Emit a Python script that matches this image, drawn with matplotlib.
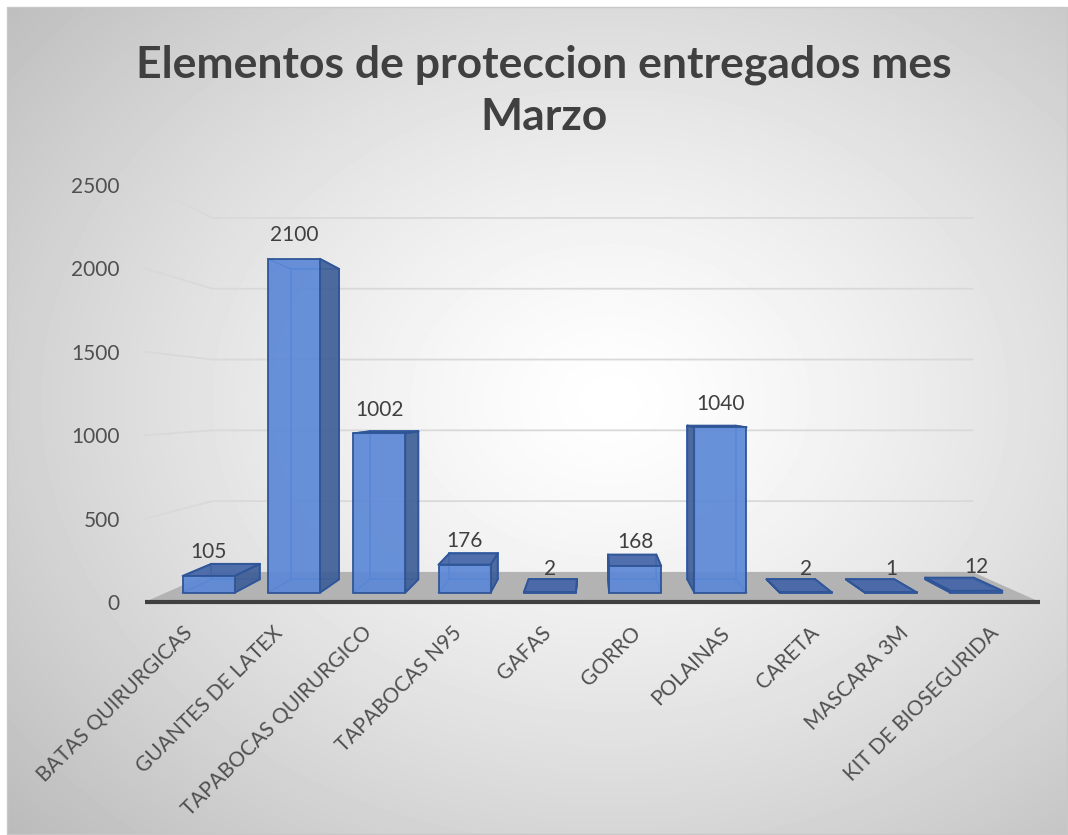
import numpy as np
import matplotlib.pyplot as plt
from matplotlib.patches import Polygon, Rectangle

plt.rcParams['font.family'] = ['Lato', 'DejaVu Sans']

titulo = 'Elementos de proteccion entregados mes\nMarzo'
categorias = ['BATAS QUIRURGICAS', 'GUANTES DE LATEX', 'TAPABOCAS QUIRURGICO',
              'TAPABOCAS N95', 'GAFAS', 'GORRO', 'POLAINAS', 'CARETA',
              'MASCARA 3M', 'KIT DE BIOSEGURIDA']
cantidades = [105, 2100, 1002, 176, 2, 168, 1040, 2, 1, 12]
ticks_y = [0, 500, 1000, 1500, 2000, 2500]

# perspectiva de un punto (imitando el grafico 3D de Excel)
VX, VY = 4.5, 1193      # punto de fuga en unidades de datos
K = 0.178               # cuanto se encoge el fondo
ANCHO = 0.61            # ancho de barra en unidades de categoria
D0, D1 = 0.277, 0.72    # profundidad de la barra (0 = frente, 1 = pared)


def proj(x, y, d):
    s = 1.0 / (1.0 + K * d)
    return VX + (x - VX) * s, VY + (y - VY) * s


W, H = 1068, 835
fig = plt.figure(figsize=(W / 100, H / 100), dpi=100)

# fondo con degradado radial
bg = fig.add_axes([0, 0, 1, 1], zorder=-2)
bg.set_xlim(0, W)
bg.set_ylim(H, 0)
bg.axis('off')
xx, yy = np.meshgrid(np.arange(7, W), np.arange(7, H))
r = np.hypot((xx - 610) / 600, (yy - 400) / 470)
grad = 1 - 0.18 * r ** 1.3
bg.imshow(grad, cmap='gray', vmin=0, vmax=1, extent=(7, W, H, 7),
          aspect='auto', interpolation='bilinear')
bg.add_patch(Rectangle((7, 7), W - 8, H - 8, fill=False, ec='#c8c8c8', lw=1))

ax = fig.add_axes([145 / W, (H - 602) / H, 895 / W, 417 / H])
ax.set_xlim(-0.5, len(categorias) - 0.5)
ax.set_ylim(0, 2500)
ax.patch.set_visible(False)
for sp in ax.spines.values():
    sp.set_visible(False)
ax.set_yticks(ticks_y)
ax.set_xticks(range(len(categorias)))
ax.set_xticklabels(categorias, rotation=45, ha='right', va='center',
                   rotation_mode='anchor')
ax.tick_params(length=0, labelsize=15, labelcolor='#505050')
ax.tick_params(axis='y', pad=18)
ax.tick_params(axis='x', pad=20)

x0, x1 = -0.5, len(categorias) - 0.5

# lineas de division: pared izquierda + pared del fondo
for v in ticks_y[1:]:
    a, b, c = proj(x0, v, 0), proj(x0, v, 1), proj(x1, v, 1)
    ax.plot([a[0], b[0], c[0]], [a[1], b[1], c[1]], color='#d9d9d9',
            lw=1.3, clip_on=False, zorder=1)

# piso
piso = [proj(x0, 0, 0), proj(x1, 0, 0), proj(x1, 0, 1), proj(x0, 0, 1)]
ax.add_patch(Polygon(piso, closed=True, fc='#b3b3b3', ec='none',
                     zorder=2, clip_on=False))
ax.plot([x0, x1], [0, 0], color='#404040', lw=3, zorder=3, clip_on=False,
        solid_capstyle='butt')

BORDE = '#2f5597'
for i, v in enumerate(cantidades):
    xa, xb = i - ANCHO / 2, i + ANCHO / 2
    fbl, fbr, ftr, ftl = proj(xa, 0, D0), proj(xb, 0, D0), proj(xb, v, D0), proj(xa, v, D0)
    bbl, bbr, btr, btl = proj(xa, 0, D1), proj(xb, 0, D1), proj(xb, v, D1), proj(xa, v, D1)

    # aristas traseras (se ven a traves de la barra)
    aristas = [(bbl, bbr), (bbr, btr), (btr, btl), (btl, bbl),
               (fbl, bbl), (fbr, bbr), (ftl, btl), (ftr, btr)]
    for p, q in aristas:
        ax.plot([p[0], q[0]], [p[1], q[1]], color='#3d6cc2', lw=1.1,
                zorder=4, clip_on=False)

    caras = []
    if xb < VX:
        caras.append(([fbr, bbr, btr, ftr], '#3f5f98'))
    elif xa > VX:
        caras.append(([fbl, bbl, btl, ftl], '#3f5f98'))
    if v < VY:
        caras.append(([ftl, ftr, btr, btl], '#4264a6'))
    caras.append(([fbl, fbr, ftr, ftl], '#5b88d6'))
    for pts, col in caras:
        ax.add_patch(Polygon(pts, closed=True, fc=col, ec=BORDE, lw=1.4,
                             alpha=0.92, zorder=5, clip_on=False,
                             joinstyle='round'))

    cx, cy = proj(i, v, D0)
    ax.annotate(str(v), (cx, cy), xytext=(0, 17), textcoords='offset points',
                ha='center', va='center', fontsize=15, color='#404040',
                annotation_clip=False, zorder=6)

fig.text(544 / W, 1 - 91 / H, titulo, ha='center', va='center', fontsize=32,
         fontweight='bold', color='#404040', linespacing=1.35)

fig.savefig('out.png', dpi=100)
